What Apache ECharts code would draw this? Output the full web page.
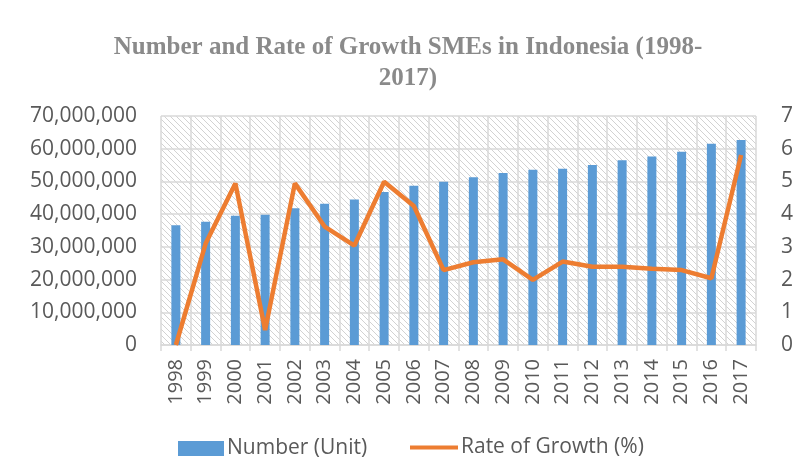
<!DOCTYPE html>
<html>
<head>
<meta charset="utf-8">
<script src="https://cdn.jsdelivr.net/npm/echarts@6/dist/echarts.min.js"></script>
<style>
  html, body { margin: 0; padding: 0; background: #fff; }
  #main { width: 796px; height: 476px; }
</style>
</head>
<body>
<div id="main"></div>
<script>
// data
const years = ['1998', '1999', '2000', '2001', '2002', '2003', '2004', '2005', '2006', '2007',
  '2008', '2009', '2010', '2011', '2012', '2013', '2014', '2015', '2016', '2017'];
const numberUnits = [36600000, 37700000, 39500000, 39800000, 41800000, 43200000, 44500000, 46800000,
  48700000, 49900000, 51300000, 52600000, 53600000, 53900000, 55000000, 56500000, 57600000,
  59100000, 61500000, 62700000];
const growthRate = [0, 3.1, 4.94, 0.46, 4.94, 3.62, 3.04, 4.99, 4.25, 2.29,
  2.53, 2.62, 1.99, 2.55, 2.39, 2.39, 2.33, 2.29, 2.04, 5.81];
const leftTicks = [0, 70000000, 10000000];   // min, max, step
const rightTicks = [0, 7, 1];

// light diagonal hatch used as the plot background
function hatch() {
  const c = document.createElement('canvas');
  c.width = 6; c.height = 6;
  const ctx = c.getContext('2d');
  ctx.fillStyle = '#fff';
  ctx.fillRect(0, 0, 6, 6);
  ctx.strokeStyle = '#d2d2d2';
  ctx.lineWidth = 1;
  ctx.beginPath();
  ctx.moveTo(-1, -1); ctx.lineTo(7, 7);
  ctx.moveTo(-1, 5); ctx.lineTo(1, 7);
  ctx.moveTo(5, -1); ctx.lineTo(7, 1);
  ctx.stroke();
  return c;
}

const font = 'Open Sans';
const grey = '#595959';
const gridLine = '#d9d9d9';
const legendText = { fontFamily: font, fontSize: 21, color: grey, padding: [0, 0, 0, -2] };

let myChart = echarts.init(document.getElementById('main'));
myChart.setOption({
  animation: false,
  title: {
    text: 'Number and Rate of Growth SMEs in Indonesia (1998-\n2017)',
    left: 403,
    top: 27,
    textAlign: 'center',
    textStyle: {
      fontFamily: 'Liberation Serif',
      fontWeight: 'bold',
      fontSize: 25,
      lineHeight: 31,
      color: '#8a8a8a'
    }
  },
  legend: [
    {
      bottom: 12,
      left: 173,
      itemWidth: 46,
      itemHeight: 15,
      textStyle: legendText,
      data: [{ name: 'Number (Unit)', icon: 'rect' }]
    },
    {
      bottom: 13,
      left: 405,
      itemWidth: 48,
      itemHeight: 4,
      textStyle: legendText,
      data: [{ name: 'Rate of Growth (%)', icon: 'rect' }]
    }
  ],
  grid: {
    left: 161,
    right: 38,
    top: 116,
    bottom: 131,
    show: true,
    borderWidth: 0,
    backgroundColor: { image: hatch(), repeat: 'repeat' }
  },
  xAxis: {
    type: 'category',
    data: years,
    boundaryGap: true,
    axisLine: { lineStyle: { color: gridLine, width: 1.5 } },
    axisTick: { show: true, length: 6, lineStyle: { color: gridLine, width: 1.5 } },
    splitLine: { show: true, lineStyle: { color: gridLine, width: 1.5 } },
    axisLabel: { rotate: 90, margin: 14, fontFamily: font, fontSize: 20, color: grey }
  },
  yAxis: [
    {
      type: 'value',
      min: leftTicks[0],
      max: leftTicks[1],
      interval: leftTicks[2],
      axisLine: { show: false },
      axisTick: { show: false },
      splitLine: { lineStyle: { color: gridLine, width: 1.5 } },
      axisLabel: {
        margin: 24,
        fontFamily: font,
        fontSize: 21,
        color: grey,
        formatter: v => v.toLocaleString('en-US')
      }
    },
    {
      type: 'value',
      min: rightTicks[0],
      max: rightTicks[1],
      interval: rightTicks[2],
      axisLine: { show: false },
      axisTick: { show: false },
      splitLine: { show: false },
      axisLabel: { margin: 25, fontFamily: font, fontSize: 21, color: grey }
    }
  ],
  series: [
    {
      name: 'Number (Unit)',
      type: 'bar',
      data: numberUnits,
      barWidth: 9,
      itemStyle: { color: '#5b9bd5' }
    },
    {
      name: 'Rate of Growth (%)',
      type: 'line',
      yAxisIndex: 1,
      data: growthRate,
      symbol: 'none',
      lineStyle: { color: '#ed7d31', width: 4.5 },
      itemStyle: { color: '#ed7d31' }
    }
  ]
});
</script>
</body>
</html>
